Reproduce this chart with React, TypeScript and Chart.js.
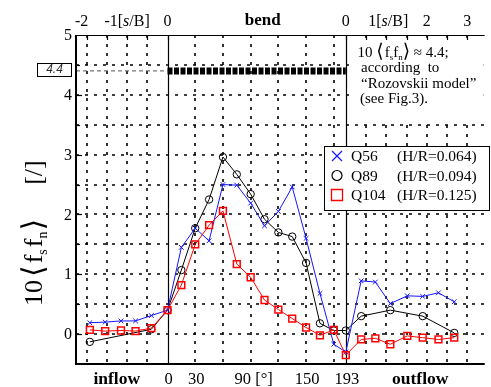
import React, { useEffect, useRef } from "react";
import { Chart, registerables } from "chart.js";

Chart.register(...registerables);

// ---------------- data ----------------
// stations: inflow reach [s/B], bend [deg], outflow reach [s/B]
const inflowS = [-1.92, -1.54, -1.15, -0.79, -0.4];
const bendDeg = [0, 15, 30, 45, 60, 75, 90, 105, 120, 135, 150, 165, 180, 193];
const outflowS = [0.38, 0.73, 1.1, 1.52, 1.9, 2.29, 2.68];

const q56Inflow = [0.19, 0.2, 0.22, 0.22, 0.31];
const q56Bend = [0.4, 1.45, 1.77, 1.56, 2.5, 2.49, 2.19, 1.81, 2.05, 2.46, 1.6, 0.68, -0.17, -0.3];
const q56Outflow = [0.89, 0.87, 0.51, 0.64, 0.63, 0.69, 0.54];

const q89Inflow = [-0.13, null, null, null, 0.08];
const q89Bend = [0.4, 1.07, 1.77, 2.25, 2.96, 2.67, 2.34, 1.92, 1.7, 1.63, 1.19, 0.18, 0.06, 0.06];
const q89Outflow = [0.3, null, 0.4, null, 0.3, null, 0.02];

const q104Inflow = [0.07, 0.05, 0.06, 0.05, 0.1];
const q104Bend = [0.4, 0.82, 1.5, 1.82, 2.06, 1.17, 0.95, 0.57, 0.41, 0.26, 0.11, -0.02, 0.07, -0.35];
const q104Outflow = [-0.09, -0.07, -0.17, -0.03, -0.06, -0.09, -0.06];

const seriesNames = ["Q56", "Q89", "Q104"];
const seriesRatios = ["(H/R=0.064)", "(H/R=0.094)", "(H/R=0.125)"];

const rozovskiiLevel = 4.4;
const bendEndDeg = 193;

const yTickValues = [0, 1, 2, 3, 4, 5];
const yGridValues = [0, 0.5, 1, 1.5, 2, 2.5, 3, 3.5, 4, 4.5];
const bottomTickDeg = [0, 30, 90, 150, 193];
const bottomTickLabels = ["0", "30", "90 [°]", "150", "193"];
const bendGridDeg = [30, 60, 90, 120, 150, 180];
const inflowGridS = [-2, -1.5, -1, -0.5];
const outflowGridS = [0.5, 1, 1.5, 2, 2.5, 3];
const topInflowTicks = [-2, -1, 0];
const topOutflowTicks = [0, 1, 2, 3];

// composite axis: degrees inside the bend, s/B scaled outside
const DEG_PER_SB = 43.81;
const X_MIN = -99.07;
const X_MAX = 343.36;
const inflowToAxis = (s: number) => s * DEG_PER_SB;
const outflowToAxis = (s: number) => bendEndDeg + s * DEG_PER_SB;

function buildSeries(inf: (number | null)[], bend: (number | null)[], out: (number | null)[]) {
  const pts: { x: number; y: number }[] = [];
  inflowS.forEach((s, i) => { if (inf[i] != null) pts.push({ x: inflowToAxis(s), y: inf[i] as number }); });
  bendDeg.forEach((d, i) => { if (bend[i] != null) pts.push({ x: d, y: bend[i] as number }); });
  outflowS.forEach((s, i) => { if (out[i] != null) pts.push({ x: outflowToAxis(s), y: out[i] as number }); });
  return pts;
}

const BLUE = "rgb(20,20,255)";
const RED = "rgb(255,0,0)";
const BLACK = "#000";

const SERIF = "'Liberation Serif','Times New Roman',serif";
const F = (size: number, style = "") => `${style} ${size}px ${SERIF}`.trim();
const BRACKET = (size: number) => `${size}px 'DejaVu Sans',sans-serif`;

type Run = { t: string; font: string; dy?: number; dx?: number };
function drawRuns(ctx: CanvasRenderingContext2D, x: number, y: number, parts: Run[]) {
  let cx = x;
  for (const p of parts) {
    ctx.font = p.font;
    cx += p.dx || 0;
    ctx.fillText(p.t, cx, y + (p.dy || 0));
    cx += ctx.measureText(p.t).width;
  }
  return cx;
}
function runsWidth(ctx: CanvasRenderingContext2D, parts: Run[]) {
  let w = 0;
  for (const p of parts) { ctx.font = p.font; w += (p.dx || 0) + ctx.measureText(p.t).width; }
  return w;
}

function topLabelRuns(v: number): Run[] {
  if (Math.abs(v) === 1) {
    return [
      { t: `${v}[`, font: F(16) },
      { t: "s", font: F(16, "italic") },
      { t: "/B]", font: F(16) },
    ];
  }
  return [{ t: String(v), font: F(16) }];
}

const decor = {
  id: "decor",
  beforeDatasetsDraw(chart: any) {
    const { ctx, chartArea: { left, right, top, bottom }, scales: { x, y } } = chart;
    ctx.save();
    ctx.strokeStyle = "#000";
    ctx.lineWidth = 1.6;
    ctx.setLineDash([3, 6]);
    for (const v of yGridValues) {
      const py = Math.round(y.getPixelForValue(v));
      ctx.beginPath(); ctx.moveTo(left, py); ctx.lineTo(right, py); ctx.stroke();
    }
    const gx = [...inflowGridS.map(inflowToAxis), ...bendGridDeg, ...outflowGridS.map(outflowToAxis)];
    for (const v of gx) {
      const px = Math.round(x.getPixelForValue(v));
      ctx.beginPath(); ctx.moveTo(px, top); ctx.lineTo(px, bottom); ctx.stroke();
    }
    ctx.setLineDash([]);
    ctx.lineWidth = 1.2;
    for (const v of [0, bendEndDeg]) {
      const px = Math.round(x.getPixelForValue(v)) + 0.5;
      ctx.beginPath(); ctx.moveTo(px, top); ctx.lineTo(px, bottom); ctx.stroke();
    }
    ctx.restore();
  },
  afterDraw(chart: any) {
    const { ctx, chartArea: { left, right, top, bottom }, scales: { x, y } } = chart;
    ctx.save();
    ctx.textAlign = "left";
    ctx.textBaseline = "alphabetic";

    // annotation
    ctx.fillStyle = "#fff";
    ctx.fillRect(354, top + 3, right - 355, 82);
    ctx.fillStyle = "#000";
    drawRuns(ctx, 357.5, 57, [
      { t: "10 ", font: F(15) },
      { t: "⟨", font: BRACKET(19) },
      { t: "f", font: F(15), dx: 1 },
      { t: "s", font: F(9), dy: 3 },
      { t: "f", font: F(15) },
      { t: "n", font: F(9), dy: 3 },
      { t: "⟩", font: BRACKET(19) },
      { t: ` ≈ ${rozovskiiLevel};`, font: F(15) },
    ]);
    ctx.font = F(15);
    ctx.fillText("according  to", 361, 72);
    ctx.fillText("“Rozovskii model”", 361, 88);
    ctx.fillText("(see Fig.3).", 360, 103);

    // legend
    ctx.fillStyle = "#fff";
    ctx.fillRect(324.5, 146.5, 165, 64);
    ctx.strokeStyle = "#000";
    ctx.lineWidth = 1;
    ctx.strokeRect(324.5, 146.5, 165, 64);
    const legendColors = [BLUE, BLACK, RED];
    seriesNames.forEach((name, i) => {
      const by = 161 + i * 19.5;
      const cy = by - 5;
      const cx = 337;
      ctx.strokeStyle = legendColors[i];
      ctx.lineWidth = i === 2 ? 1.3 : 1.2;
      ctx.beginPath();
      if (i === 0) {
        ctx.moveTo(cx - 5, cy - 5); ctx.lineTo(cx + 5, cy + 5);
        ctx.moveTo(cx + 5, cy - 5); ctx.lineTo(cx - 5, cy + 5);
      } else if (i === 1) {
        ctx.arc(cx, cy, 5, 0, Math.PI * 2);
      } else {
        ctx.rect(cx - 5.5, cy - 5.5, 11, 11);
      }
      ctx.stroke();
      ctx.fillStyle = "#000";
      ctx.font = F(15.5);
      ctx.fillText(name, 351, by);
      ctx.fillText(seriesRatios[i], 397, by);
    });

    // axes
    ctx.strokeStyle = "#000";
    ctx.lineWidth = 2;
    ctx.beginPath();
    ctx.moveTo(left, top); ctx.lineTo(left, bottom); ctx.lineTo(right, bottom);
    ctx.stroke();
    ctx.lineWidth = 1.2;
    ctx.beginPath(); ctx.moveTo(left, top + 0.5); ctx.lineTo(right, top + 0.5); ctx.stroke();
    // left ticks
    ctx.lineWidth = 1.2;
    for (let v = 0; v <= 4.5 + 1e-9; v += 0.5) {
      const py = Math.round(y.getPixelForValue(v)) + 0.5;
      ctx.beginPath(); ctx.moveTo(left, py); ctx.lineTo(left + (Number.isInteger(v) ? 6 : 4), py); ctx.stroke();
    }
    // top ticks
    const topTickPos = [...inflowGridS.map(inflowToAxis), 0, bendEndDeg, ...outflowGridS.map(outflowToAxis)];
    for (const v of topTickPos) {
      const px = Math.round(x.getPixelForValue(v)) + 0.5;
      ctx.beginPath(); ctx.moveTo(px, top); ctx.lineTo(px, top + 5); ctx.stroke();
    }

    // left tick labels
    ctx.fillStyle = "#000";
    ctx.font = F(16);
    ctx.textAlign = "right";
    ctx.textBaseline = "middle";
    for (const v of yTickValues) {
      ctx.fillText(String(v), 72, y.getPixelForValue(v) + 1);
    }

    // top labels
    ctx.textAlign = "left";
    ctx.textBaseline = "alphabetic";
    const topLabels: { px: number; v: number }[] = [
      ...topInflowTicks.map((v) => ({ px: x.getPixelForValue(inflowToAxis(v)), v })),
      ...topOutflowTicks.map((v) => ({ px: x.getPixelForValue(outflowToAxis(v)), v })),
    ];
    for (const l of topLabels) {
      const runs = topLabelRuns(l.v);
      const w = runsWidth(ctx, runs);
      const shift = l.v === -2 ? -5 : l.v === 1 ? 2 : 0;
      drawRuns(ctx, l.px - w / 2 + shift, 26, runs);
    }
    ctx.font = F(17, "bold");
    ctx.textAlign = "center";
    ctx.fillText("bend", (x.getPixelForValue(0) + x.getPixelForValue(bendEndDeg)) / 2 + 6, 25);

    // bottom labels
    ctx.font = F(16.5);
    bottomTickDeg.forEach((d, i) => {
      ctx.fillText(bottomTickLabels[i], x.getPixelForValue(d) + (i === 2 ? 3 : 1), 384);
    });
    ctx.font = F(17.5, "bold");
    ctx.fillText("inflow", (left + x.getPixelForValue(0)) / 2 - 5, 384);
    ctx.fillText("outflow", (x.getPixelForValue(bendEndDeg) + right) / 2 + 5, 384);

    // y title (rotated)
    ctx.save();
    ctx.translate(42, 306);
    ctx.rotate(-Math.PI / 2);
    ctx.textAlign = "left";
    ctx.textBaseline = "alphabetic";
    drawRuns(ctx, 0, 0, [
      { t: "10", font: F(26) },
      { t: "⟨", font: BRACKET(30), dx: 3, dy: 1 },
      { t: "f", font: F(26), dx: 2 },
      { t: "s", font: F(14), dy: 5 },
      { t: "f", font: F(26), dx: 2 },
      { t: "n", font: F(14), dy: 5 },
      { t: "⟩", font: BRACKET(30), dx: 1, dy: 1 },
      { t: "[/]", font: F(26), dx: 34 },
    ]);
    ctx.restore();

    // "4.4" box
    const by = y.getPixelForValue(rozovskiiLevel) - 1.5;
    ctx.strokeStyle = "#000";
    ctx.lineWidth = 1;
    ctx.strokeRect(37.5, Math.round(by - 6.5) + 0.5, 34, 13);
    ctx.fillStyle = "#333";
    ctx.font = "italic 12px 'Liberation Sans',Arial,sans-serif";
    ctx.textAlign = "center";
    ctx.textBaseline = "middle";
    ctx.fillText(String(rozovskiiLevel), 54.5, by + 0.5);

    ctx.restore();
  },
};

export default function App() {
  const ref = useRef<HTMLCanvasElement>(null);
  useEffect(() => {
    document.body.style.margin = "0";
    const chart = new Chart(ref.current as HTMLCanvasElement, {
      type: "line",
      data: {
        datasets: [
          {
            label: "model band",
            data: [{ x: 0, y: rozovskiiLevel }, { x: bendEndDeg, y: rozovskiiLevel }],
            borderColor: "#000",
            borderWidth: 7,
            borderDash: [5, 1.5],
            pointRadius: 0,
            order: 10,
          },
          {
            label: "model ref",
            data: [{ x: X_MIN, y: rozovskiiLevel }, { x: 0, y: rozovskiiLevel }],
            borderColor: "#555",
            borderWidth: 1,
            borderDash: [4, 3],
            pointRadius: 0,
            order: 11,
          },
          {
            label: seriesNames[1],
            data: buildSeries(q89Inflow, q89Bend, q89Outflow),
            borderColor: BLACK,
            borderWidth: 1,
            pointStyle: "circle",
            pointRadius: 3.7,
            pointBorderColor: BLACK,
            pointBackgroundColor: "rgba(0,0,0,0)",
            pointBorderWidth: 1,
            order: 3,
          },
          {
            label: seriesNames[0],
            data: buildSeries(q56Inflow, q56Bend, q56Outflow),
            borderColor: BLUE,
            borderWidth: 1,
            pointStyle: "crossRot",
            pointRadius: 3.3,
            pointBorderColor: BLUE,
            pointBorderWidth: 1,
            order: 2,
          },
          {
            label: seriesNames[2],
            data: buildSeries(q104Inflow, q104Bend, q104Outflow),
            borderColor: RED,
            borderWidth: 1,
            pointStyle: "rect",
            pointRadius: 4.8,
            pointBorderColor: RED,
            pointBackgroundColor: "rgba(0,0,0,0)",
            pointBorderWidth: 1.5,
            order: 1,
          },
        ],
      },
      options: {
        responsive: false,
        animation: false,
        devicePixelRatio: 1,
        events: [],
        layout: { padding: { left: 76, top: 35, right: 1, bottom: 23 } },
        scales: {
          x: { type: "linear", min: X_MIN, max: X_MAX, display: false },
          y: { type: "linear", min: -0.5, max: 5, display: false },
        },
        plugins: { legend: { display: false }, tooltip: { enabled: false } },
      },
      plugins: [decor],
    } as any);
    return () => chart.destroy();
  }, []);
  return (
    <div style={{ position: "absolute", left: 0, top: 0, width: 491, height: 387, background: "#fff" }}>
      <canvas ref={ref} width={491} height={387} style={{ display: "block", width: 491, height: 387 }} />
    </div>
  );
}
